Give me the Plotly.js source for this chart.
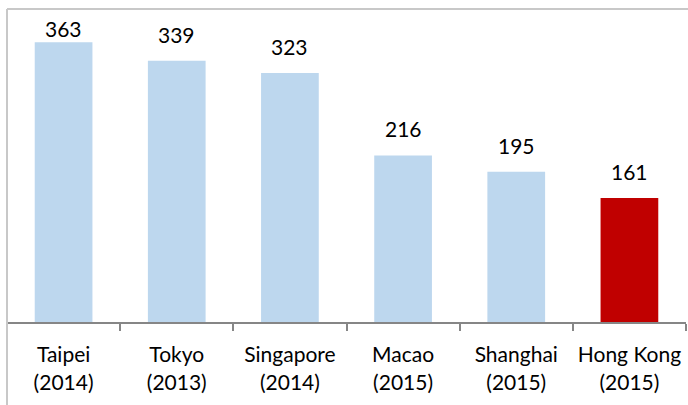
<!DOCTYPE html>
<html>
<head>
<meta charset="utf-8">
<script src="https://cdn.plot.ly/plotly-3.0.1.min.js"></script>
<style>html,body{margin:0;padding:0;background:#fff;}#chart{width:688px;height:405px;}</style>
</head>
<body>
<div id="chart"></div>
<script>
var cities = ["Taipei", "Tokyo", "Singapore", "Macao", "Shanghai", "Hong Kong"];
var years = ["2014", "2013", "2014", "2015", "2015", "2015"];
var values = [363, 339, 323, 216, 195, 161];
var barColors = ["#BDD7EE", "#BDD7EE", "#BDD7EE", "#BDD7EE", "#BDD7EE", "#C00000"];

var labels = cities.map(function (c, i) { return c + "<br>(" + years[i] + ")"; });

var FONT = "Lato, 'Open Sans', sans-serif";
var MT = 9, MB = 83, H = 405, YMAX = 406;
var plotH = H - MT - MB;

var trace = {
  type: "bar",
  x: labels,
  y: values,
  marker: { color: barColors },
  width: 0.51,
  hoverinfo: "none"
};

// labels sit above bars; the tallest one is pushed down so it stays inside the frame
var valueLabels = labels.map(function (lab, i) {
  var topPx = MT + plotH * (1 - values[i] / YMAX);
  var shift = Math.min(12, topPx - 31 - 12);
  return {
    x: lab, y: values[i], xref: "x", yref: "y",
    text: String(values[i]),
    showarrow: false,
    yanchor: "bottom",
    yshift: shift,
    font: { family: FONT, size: 21, color: "#000" }
  };
});

var layout = {
  width: 688,
  height: H,
  margin: { l: 7, r: 2, t: MT, b: MB },
  paper_bgcolor: "#fff",
  plot_bgcolor: "#fff",
  showlegend: false,
  font: { family: FONT, size: 21, color: "#000" },
  xaxis: {
    type: "category",
    showline: true,
    linecolor: "#868686",
    linewidth: 2,
    ticks: "outside",
    tickson: "boundaries",
    ticklen: 7,
    tickwidth: 2,
    tickcolor: "#868686",
    tickangle: 0,
    ticklabelstandoff: 13,
    showgrid: false,
    tickfont: { family: FONT, size: 21, color: "#000" },
    fixedrange: true
  },
  yaxis: {
    range: [0, YMAX],
    visible: false,
    showgrid: false,
    zeroline: false,
    fixedrange: true
  },
  annotations: valueLabels,
  shapes: [
    { type: "line", xref: "paper", yref: "paper", x0: 0, x1: 0, y0: -0.27, y1: 1,
      line: { color: "#C8C8C8", width: 2 } },
    { type: "line", xref: "paper", yref: "paper", x0: 0, x1: 1.01, y0: 1, y1: 1,
      line: { color: "#C8C8C8", width: 2 } }
  ]
};

Plotly.newPlot("chart", [trace], layout, { displayModeBar: false, staticPlot: true });
</script>
</body>
</html>
